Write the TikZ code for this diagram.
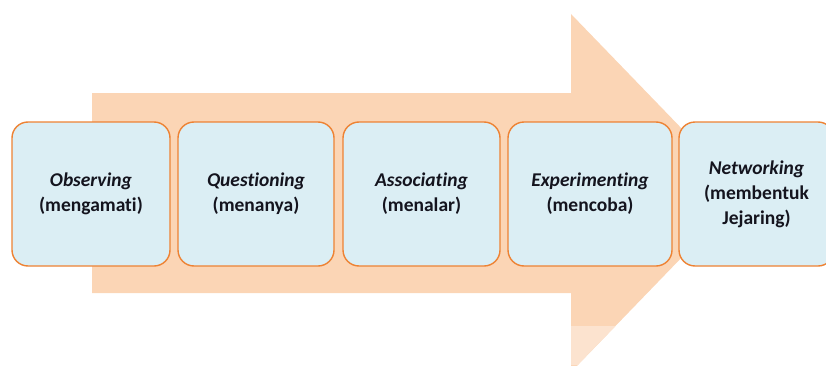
\documentclass[tikz,border=0pt]{standalone}
\usepackage{fontspec}
\setmainfont{Carlito}[Ligatures={NoCommon}]
\definecolor{arrowfill}{HTML}{FBD5B5}
\definecolor{arrowpale}{HTML}{FCE3CF}
\definecolor{stagefill}{HTML}{DBEEF4}
\definecolor{stageline}{HTML}{EE8233}
\definecolor{textcol}{HTML}{14141E}
\begin{document}
\begin{tikzpicture}[x=1pt,y=1pt,
  stage/.style={draw=stageline, fill=stagefill, line width=1.4pt,
    rounded corners=16pt, minimum height=144pt, inner sep=0pt,
    align=center, text=textcol,
    font=\bfseries\fontsize{19.5}{25}\selectfont},
]
\useasboundingbox (0,0) rectangle (826,365);
\clip (0,0) rectangle (826,365);

% broad process arrow behind the stages
\fill[arrowfill] (92,72) -- (92,272) -- (571,272) -- (571,351)
  -- (744,172) -- (571,-7) -- (571,72) -- cycle;
% paler strip at the foot of the arrow head
\fill[arrowpale] (571,0) -- (571,39) -- (615.5,39) -- (577.8,0) -- cycle;

% the five stages
\node[stage, minimum width=158pt] (obs) at (91,171)
  {\textit{Observing}\\(mengamati)};
\node[stage, minimum width=156pt] (que) at (256,171)
  {\textit{Questioning}\\(menanya)};
\node[stage, minimum width=157pt] (ass) at (421.5,171)
  {\textit{Associating}\\(menalar)};
\node[stage, minimum width=164pt] (exp) at (590,171)
  {\textit{Experimenting}\\(mencoba)};
\node[stage, minimum width=155pt] (net) at (756.5,171)
  {\textit{Networking}\\(membentuk\\Jejaring)};
\end{tikzpicture}
\end{document}
